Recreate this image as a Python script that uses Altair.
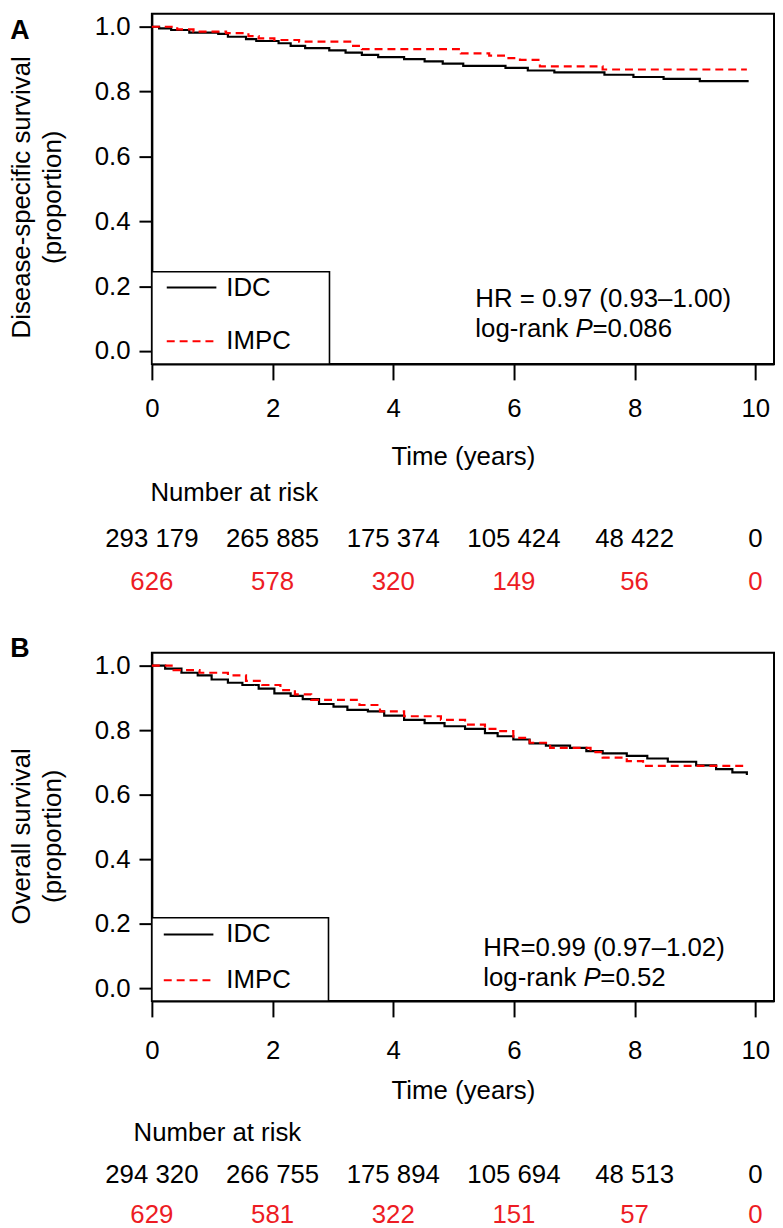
import altair as alt
import pandas as pd

FONT = "Liberation Sans"
RED_LINE = "#FF0000"
RED_TEXT = "#ED1C24"

# ---------------- Panel A: disease-specific survival ----------------
a_idc_t = [0, 0.12, 0.32, 0.62, 1.10, 1.26, 1.56, 1.73, 2.10, 2.30, 2.54, 2.94, 3.21, 3.48,
           3.75, 4.18, 4.52, 4.82, 5.16, 5.86, 6.23, 6.67, 7.50, 7.98, 8.48, 9.08, 9.89]
a_idc_s = [1.0, 0.995, 0.990, 0.982, 0.978, 0.969, 0.962, 0.956, 0.949, 0.941, 0.934, 0.927,
           0.920, 0.913, 0.906, 0.900, 0.893, 0.886, 0.879, 0.873, 0.865, 0.859, 0.852, 0.845,
           0.839, 0.832, 0.832]
a_impc_t = [0, 0.42, 0.69, 1.23, 1.60, 1.77, 2.03, 2.44, 3.31, 3.48, 5.12, 5.59, 5.89, 6.10,
            6.43, 7.47, 9.86]
a_impc_s = [1.0, 0.992, 0.985, 0.980, 0.971, 0.964, 0.959, 0.954, 0.941, 0.931, 0.918, 0.911,
            0.903, 0.898, 0.878, 0.868, 0.868]
a_risk_idc = ["293 179", "265 885", "175 374", "105 424", "48 422", "0"]
a_risk_impc = ["626", "578", "320", "149", "56", "0"]

# ---------------- Panel B: overall survival ----------------
b_idc_t = [0, 0.22, 0.49, 0.76, 0.99, 1.26, 1.50, 1.77, 2.03, 2.30, 2.50, 2.77, 3.01, 3.24,
           3.58, 3.85, 4.18, 4.52, 4.85, 5.19, 5.52, 5.73, 5.99, 6.26, 6.53, 6.93, 7.20, 7.47,
           7.87, 8.21, 8.55, 9.02, 9.35, 9.62, 9.86]
b_idc_s = [1.0, 0.991, 0.978, 0.970, 0.957, 0.947, 0.940, 0.929, 0.914, 0.906, 0.896, 0.881,
           0.873, 0.863, 0.858, 0.845, 0.832, 0.822, 0.812, 0.804, 0.791, 0.781, 0.771, 0.759,
           0.752, 0.745, 0.735, 0.728, 0.720, 0.712, 0.702, 0.691, 0.679, 0.669, 0.661]
b_impc_t = [0, 0.36, 0.79, 1.26, 1.56, 1.83, 2.13, 2.37, 2.64, 3.44, 3.78, 4.18, 4.79, 5.19,
            5.52, 5.73, 5.99, 6.26, 6.60, 7.27, 7.47, 7.87, 8.14, 9.86]
b_impc_s = [1.0, 0.986, 0.978, 0.970, 0.953, 0.940, 0.924, 0.911, 0.894, 0.878, 0.858, 0.843,
            0.832, 0.817, 0.804, 0.797, 0.776, 0.761, 0.745, 0.732, 0.715, 0.704, 0.689, 0.689]
b_risk_idc = ["294 320", "266 755", "175 894", "105 694", "48 513", "0"]
b_risk_impc = ["629", "581", "322", "151", "57", "0"]

risk_times = [0, 2, 4, 6, 8, 10]
groups = ["IDC", "IMPC"]
x_ticks = [0, 2, 4, 6, 8, 10]
y_ticks = [0.0, 0.2, 0.4, 0.6, 0.8, 1.0]

FS = 26
W = 627


def panel(letter, ytitle, idc_t, idc_s, impc_t, impc_s, risk_idc, risk_impc,
          hr_text, p_value, h, lay):
    curves = pd.DataFrame({
        "t": idc_t + impc_t,
        "s": idc_s + impc_s,
        "group": ["IDC"] * len(idc_t) + ["IMPC"] * len(impc_t),
    })
    risk = pd.DataFrame({"t": risk_times, "idc": risk_idc, "impc": risk_impc})
    one = pd.DataFrame({"k": [0]})

    xenc = alt.X("t:Q", scale=alt.Scale(domain=[0, 10.31], nice=False, zero=False),
                 axis=alt.Axis(values=x_ticks, format="d", title="Time (years)",
                               grid=False, labelFlush=False, labelOverlap=False,
                               tickSize=16, tickWidth=2, domainWidth=2,
                               labelPadding=lay["lp"], titlePadding=lay["tp"],
                               labelFontSize=FS, titleFontSize=FS, titleFontWeight="normal"))
    yenc = alt.Y("s:Q", scale=alt.Scale(domain=[-0.04, 1.04], nice=False, zero=False),
                 axis=alt.Axis(values=y_ticks, format=".1f", title=None, grid=False,
                               labelFlush=False, labelOverlap=False, tickSize=13,
                               tickWidth=2, domainWidth=2, labelPadding=9,
                               labelFontSize=FS))

    lines = alt.Chart(curves).mark_line(interpolate="step-after", strokeWidth=2.2).encode(
        x=xenc, y=yenc,
        color=alt.Color("group:N", scale=alt.Scale(domain=groups, range=["black", RED_LINE]),
                        legend=None),
        strokeDash=alt.StrokeDash("group:N", scale=alt.Scale(domain=groups,
                                                             range=[[1, 0], [8, 5]]),
                                  legend=None),
        order="t:Q",
    )

    box = alt.Chart(one).mark_rect(fill="white", stroke="black", strokeWidth=1.6).encode(
        x=alt.value(0), x2=alt.value(lay["box_r"]),
        y=alt.value(lay["box_t"]), y2=alt.value(h))
    leg_idc = alt.Chart(one).mark_rule(color="black", strokeWidth=2).encode(
        x=alt.value(lay["ll"]), x2=alt.value(lay["ll"] + 50), y=alt.value(lay["ly1"]))
    leg_impc = alt.Chart(one).mark_rule(color=RED_LINE, strokeWidth=2,
                                        strokeDash=[8, 5]).encode(
        x=alt.value(lay["ll"]), x2=alt.value(lay["ll"] + 50), y=alt.value(lay["ly2"]))

    def txt(text, x, y, align="left", color="black", style="normal", weight="normal",
            size=FS, angle=0, lh=None):
        kw = dict(text=text, align=align, baseline="middle", font=FONT, fontSize=size,
                  color=color, fontStyle=style, fontWeight=weight)
        if angle:
            kw["angle"] = angle
        if lh:
            kw["lineHeight"] = lh
        return alt.Chart(one).mark_text(**kw).encode(x=alt.value(x), y=alt.value(y))

    texts = [
        txt("IDC", 75, lay["ly1"]),
        txt("IMPC", 75, lay["ly2"]),
        txt(hr_text, lay["ax"], lay["ay1"]),
        txt("log-rank ", lay["ax"], lay["ay2"]),
        txt("P", lay["ax"] + 101, lay["ay2"], style="italic"),
        txt("=" + p_value, lay["ax"] + 118, lay["ay2"]),
        txt(letter, -133, lay["let_y"], align="center", weight="bold", size=27),
        txt(ytitle, -131, lay["yt_y"], align="center", angle=270, lh=31),
        txt("Number at risk", lay["nr_x"], lay["nr_y"], align="center"),
    ]

    risk_black = alt.Chart(risk).mark_text(font=FONT, fontSize=FS, color="black",
                                           baseline="middle").encode(
        x="t:Q", y=alt.value(lay["r1"]), text="idc:N")
    risk_red = alt.Chart(risk).mark_text(font=FONT, fontSize=FS, color=RED_TEXT,
                                         baseline="middle").encode(
        x="t:Q", y=alt.value(lay["r2"]), text="impc:N")

    return alt.layer(box, lines, leg_idc, leg_impc, *texts, risk_black, risk_red).properties(
        width=W, height=h)


lay_a = dict(lp=16, tp=22, box_r=179, box_t=260, ll=15, ly1=276, ly2=330,
             ax=326, ay1=288, ay2=318, let_y=17, yt_y=185, nr_x=83, nr_y=483,
             r1=529, r2=573)
lay_b = dict(lp=21, tp=14, box_r=178, box_t=267, ll=12, ly1=284, ly2=330,
             ax=334, ay1=298, ay2=328, let_y=-4, yt_y=185, nr_x=66, nr_y=484,
             r1=526, r2=567)

pa = panel("A", ["Disease-specific survival", "(proportion)"], a_idc_t, a_idc_s,
           a_impc_t, a_impc_s, a_risk_idc, a_risk_impc,
           "HR = 0.97 (0.93–1.00)", "0.086", 353, lay_a)
pb = panel("B", ["Overall survival", "(proportion)"], b_idc_t, b_idc_s,
           b_impc_t, b_impc_s, b_risk_idc, b_risk_impc,
           "HR=0.99 (0.97–1.02)", "0.52", 351, lay_b)

chart = alt.vconcat(pa, pb, spacing=38).properties(
    padding={"left": 0, "top": 0, "right": 0, "bottom": 0}
).configure(font=FONT).configure_view(stroke="black", strokeWidth=2).configure_axis(
    labelFont=FONT, titleFont=FONT, labelColor="black", titleColor="black",
    tickColor="black", domainColor="black"
)

chart.save("out.html", embed_options={"renderer": "svg", "actions": False})
